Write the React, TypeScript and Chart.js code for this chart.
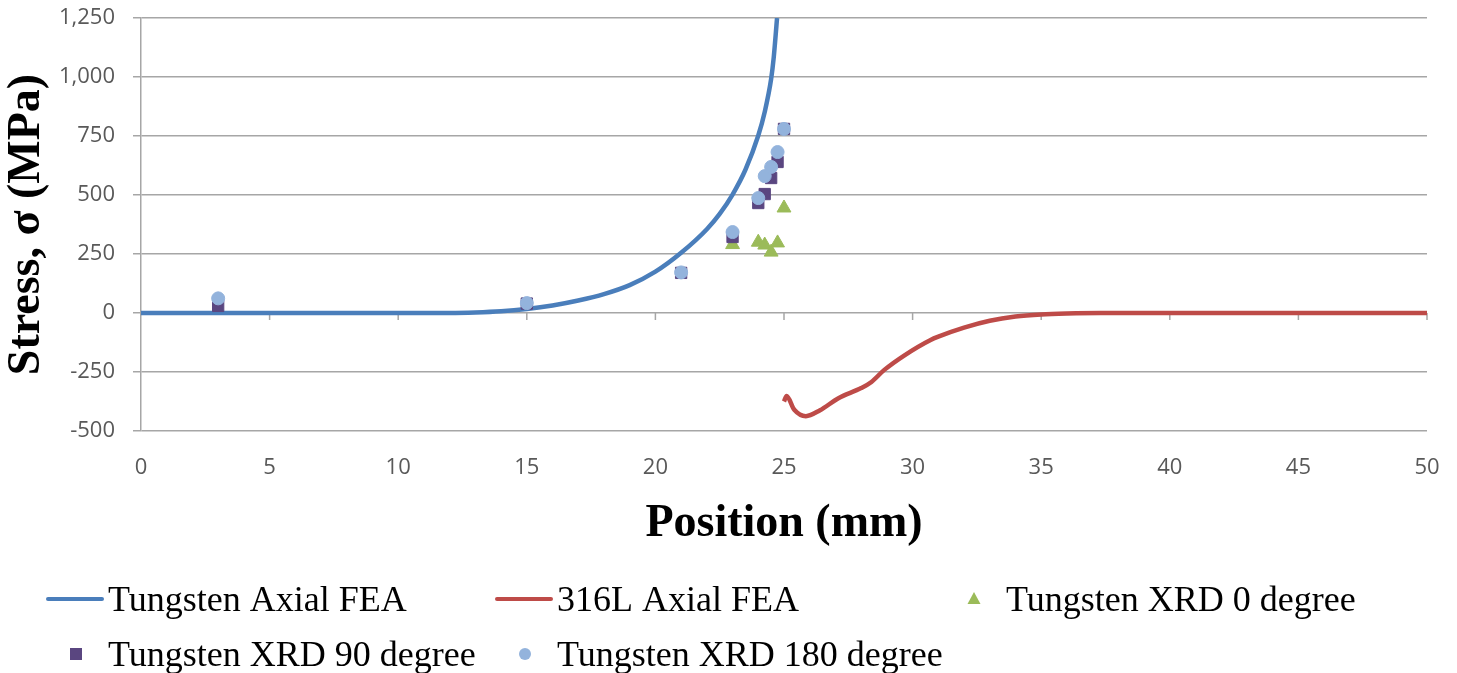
import React, { useEffect, useRef } from "react";
import { Chart, registerables } from "chart.js";

Chart.register(...registerables);

// ---- Data ----
const tungstenFeaX = [0, 5, 10, 12, 13, 14, 15, 16, 17, 18, 19, 20, 21, 22, 22.5, 23, 23.5, 24, 24.25, 24.5, 24.6, 24.73];
const tungstenFeaY = [0, 0, 0, 0, 2, 7, 17, 32, 53, 80, 118, 175, 255, 355, 420, 502, 607, 752, 852, 992, 1082, 1250];

const steelFeaX = [25.0, 25.1, 25.4, 25.85, 26.4, 27.1, 28.0, 28.4, 28.9, 29.7, 30.7, 31, 32, 33, 34, 35, 36, 37.3, 40, 45, 50];
const steelFeaY = [-375, -352, -410, -437, -412, -362, -318, -292, -241, -178, -114, -100, -62, -33, -15, -6, -2, 0, 0, 0, 0];

const xrd0X = [23, 24, 24.25, 24.5, 24.75, 25];
const xrd0Y = [290, 300, 288, 258, 297, 445];

const xrd90X = [3, 15, 21, 23, 24, 24.25, 24.5, 24.75, 25];
const xrd90Y = [30, 40, 170, 322, 466, 504, 572, 640, 780];

const xrd180X = [3, 15, 21, 23, 24, 24.25, 24.5, 24.75, 25];
const xrd180Y = [62, 42, 172, 343, 487, 580, 619, 682, 780];

const seriesLabels = [
  "Tungsten Axial FEA",
  "316L Axial FEA",
  "Tungsten XRD 0 degree",
  "Tungsten XRD 90 degree",
  "Tungsten XRD 180 degree",
];

const xMin = 0, xMax = 50, xStep = 5;
const yMin = -500, yMax = 1250, yStep = 250;

const toPoints = (xs: number[], ys: number[]) => xs.map((x, i) => ({ x, y: ys[i] }));

const SERIF = '"Liberation Serif", "Times New Roman", serif';
const SANS = '"Open Sans", "Liberation Sans", sans-serif';
const GRID = "#a6a6a6";

const zeroTicksPlugin = {
  id: "zeroTicks",
  beforeDatasetsDraw(chart: any) {
    const { ctx, scales } = chart;
    const xs = scales.x;
    const ys = scales.y;
    const y0 = ys.getPixelForValue(0);
    ctx.save();
    ctx.strokeStyle = GRID;
    ctx.lineWidth = 1.5;
    xs.ticks.forEach((t: any) => {
      if (t.value === xMin) return;
      const px = xs.getPixelForValue(t.value);
      ctx.beginPath();
      ctx.moveTo(px, y0);
      ctx.lineTo(px, y0 + 7);
      ctx.stroke();
    });
    ctx.restore();
  },
};

const legendPlugin = {
  id: "customLegend",
  afterDraw(chart: any) {
    const { ctx } = chart;
    const ds = chart.data.datasets;
    const colStart = 48;
    const colWidth = 449;
    const rowCenters = [599, 654];
    ctx.save();
    ds.forEach((d: any, i: number) => {
      const col = i % 3;
      const row = Math.floor(i / 3);
      const x0 = colStart + col * colWidth;
      const cy = rowCenters[row];
      const color = d.borderColor;
      if (d.showLine) {
        ctx.strokeStyle = color;
        ctx.lineWidth = 4;
        ctx.lineCap = "round";
        ctx.beginPath();
        ctx.moveTo(x0, cy);
        ctx.lineTo(x0 + 54, cy);
        ctx.stroke();
      } else {
        const mx = x0 + 28;
        ctx.fillStyle = d.backgroundColor;
        ctx.beginPath();
        if (d.pointStyle === "rect") {
          ctx.rect(mx - 6, cy - 6, 12, 12);
        } else if (d.pointStyle === "triangle") {
          ctx.moveTo(mx, cy - 7);
          ctx.lineTo(mx + 6.5, cy + 5);
          ctx.lineTo(mx - 6.5, cy + 5);
          ctx.closePath();
        } else {
          ctx.arc(mx, cy, 6, 0, Math.PI * 2);
        }
        ctx.fill();
      }
      ctx.fillStyle = "#000";
      ctx.font = `36px ${SERIF}`;
      ctx.textAlign = "left";
      ctx.textBaseline = "alphabetic";
      ctx.fillText(d.label, x0 + 60, cy + 12);
    });
    ctx.restore();
  },
};

export default function App() {
  const canvasRef = useRef<HTMLCanvasElement | null>(null);

  useEffect(() => {
    if (!canvasRef.current) return;
    const chart = new Chart(canvasRef.current, {
      type: "scatter",
      data: {
        datasets: [
          {
            label: seriesLabels[0],
            data: toPoints(tungstenFeaX, tungstenFeaY),
            showLine: true,
            borderColor: "#4a7ebb",
            backgroundColor: "#4a7ebb",
            borderWidth: 4.5,
            pointRadius: 0,
            cubicInterpolationMode: "monotone",
            order: 5,
          },
          {
            label: seriesLabels[1],
            data: toPoints(steelFeaX, steelFeaY),
            showLine: true,
            borderColor: "#be4b48",
            backgroundColor: "#be4b48",
            borderWidth: 4.5,
            pointRadius: 0,
            cubicInterpolationMode: "monotone",
            order: 4,
          },
          {
            label: seriesLabels[2],
            data: toPoints(xrd0X, xrd0Y),
            pointStyle: "triangle",
            borderColor: "#9bbb59",
            backgroundColor: "#9bbb59",
            pointRadius: 8,
            pointBorderWidth: 1,
            order: 3,
          },
          {
            label: seriesLabels[3],
            data: toPoints(xrd90X, xrd90Y),
            pointStyle: "rect",
            borderColor: "#5a4680",
            backgroundColor: "#5a4680",
            pointRadius: 8,
            pointBorderWidth: 1,
            order: 2,
          },
          {
            label: seriesLabels[4],
            data: toPoints(xrd180X, xrd180Y),
            pointStyle: "circle",
            borderColor: "#93b3dc",
            backgroundColor: "#93b3dc",
            pointRadius: 6.5,
            pointBorderWidth: 1,
            order: 1,
          },
        ],
      },
      options: {
        responsive: false,
        animation: false,
        layout: { padding: { left: 0, top: 18, right: 30, bottom: 122 } },
        plugins: {
          legend: { display: false },
          tooltip: { enabled: false },
        },
        scales: {
          x: {
            type: "linear",
            min: xMin,
            max: xMax,
            ticks: {
              stepSize: xStep,
              color: "#595959",
              padding: 16,
              font: { family: SANS, size: 22 },
            },
            grid: { display: false },
            border: { display: false },
            title: {
              display: true,
              text: "Position (mm)",
              color: "#000",
              font: { family: SERIF, size: 46, weight: "bold", lineHeight: 1 },
              padding: { top: 0, bottom: 4 },
            },
            afterFit(scale: any) {
              scale.height = 120;
              scale.paddingLeft = 0;
              scale.paddingRight = 0;
            },
          },
          y: {
            type: "linear",
            min: yMin,
            max: yMax,
            ticks: {
              stepSize: yStep,
              color: "#595959",
              padding: 18,
              font: { family: SANS, size: 22 },
            },
            grid: { color: GRID, lineWidth: 1.5, tickLength: 8, drawTicks: true },
            border: { display: true, color: GRID, width: 1.5 },
            title: {
              display: true,
              text: "Stress, σ (MPa)",
              color: "#000",
              font: { family: SERIF, size: 46, weight: "bold", lineHeight: 1 },
              padding: { top: 4, bottom: 0 },
            },
            afterFit(scale: any) {
              scale.width = 141;
              scale.paddingTop = 0;
              scale.paddingBottom = 0;
            },
          },
        },
      },
      plugins: [zeroTicksPlugin, legendPlugin],
    } as any);
    return () => chart.destroy();
  }, []);

  return (
    <div style={{ position: "absolute", left: 0, top: 0, width: 1457, height: 673, background: "#fff" }}>
      <canvas ref={canvasRef} width={1457} height={673} style={{ display: "block", width: 1457, height: 673 }} />
    </div>
  );
}
